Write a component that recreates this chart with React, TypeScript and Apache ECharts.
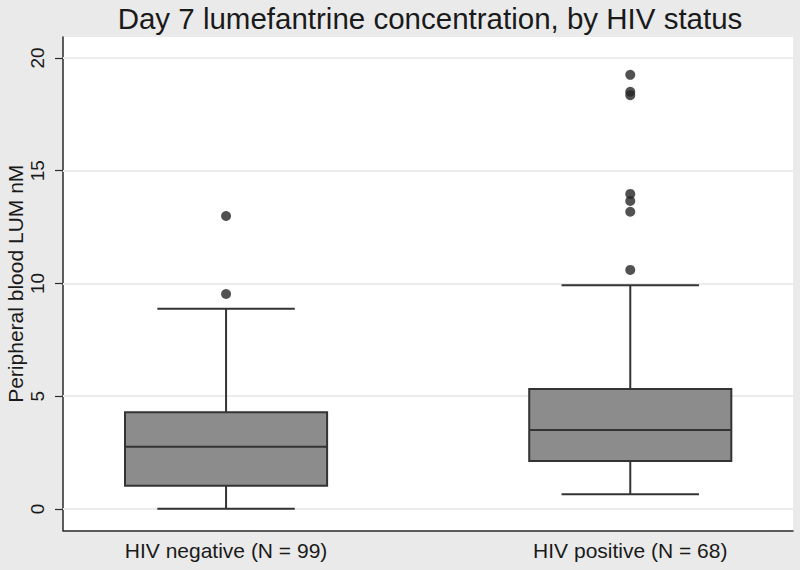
import React, { useEffect, useRef } from "react";
import * as echarts from "echarts";

const titleText = "Day 7 lumefantrine concentration, by HIV status";
const yAxisTitle = "Peripheral blood LUM nM";
const categories = ["HIV negative (N = 99)", "HIV positive (N = 68)"];
const groupPositions = [1, 2];
// [lower whisker, Q1, median, Q3, upper whisker]
const boxStats = [
  [0, 1.02, 2.75, 4.29, 8.88],
  [0.65, 2.12, 3.5, 5.32, 9.92],
];
const outliersNegative = [9.53, 12.99];
const outliersPositive = [10.6, 13.18, 13.66, 13.97, 18.35, 18.5, 19.25];
const yTicks = [0, 5, 10, 15, 20];

const FONT = "'Liberation Sans', Arial, Helvetica, sans-serif";

export default function App() {
  const ref = useRef<HTMLDivElement>(null);
  useEffect(() => {
    if (!ref.current) return;
    const chart = echarts.init(ref.current, undefined, { renderer: "svg" });

    const boxData = boxStats.map((s, i) => [groupPositions[i], ...s]);
    const outlierData = [
      ...outliersNegative.map((v) => [groupPositions[0], v]),
      ...outliersPositive.map((v) => [groupPositions[1], v]),
    ];

    chart.setOption({
      animation: false,
      backgroundColor: "#eaeaea",
      title: {
        text: titleText,
        left: 430,
        top: 3,
        padding: 0,
        textAlign: "center",
        textStyle: { fontFamily: FONT, fontSize: 29.5, fontWeight: "normal", color: "#1a1a1a" },
      },
      grid: {
        left: 63,
        top: 37,
        width: 730,
        height: 493.5,
        show: true,
        backgroundColor: "#ffffff",
        borderWidth: 0,
        containLabel: false,
        outerBoundsMode: "none",
      },
      xAxis: {
        type: "value",
        min: 0.5966,
        max: 2.4026,
        axisLine: { show: true, onZero: false, lineStyle: { color: "#2a2a2a", width: 1.5 } },
        axisTick: { show: false },
        splitLine: { show: false },
        axisLabel: {
          customValues: groupPositions,
          formatter: (v: number) => {
            const idx = groupPositions.indexOf(Math.round(v));
            return idx >= 0 ? categories[idx] : "";
          },
          fontFamily: FONT,
          fontSize: 21,
          color: "#1a1a1a",
          margin: 9,
        },
      },
      yAxis: {
        type: "value",
        min: -0.96,
        max: 20.93,
        name: yAxisTitle,
        nameLocation: "middle",
        nameGap: 37,
        nameMoveOverlap: false,
        nameRotate: 90,
        nameTextStyle: { fontFamily: FONT, fontSize: 21, color: "#1a1a1a" },
        axisLine: { show: true, onZero: false, lineStyle: { color: "#2a2a2a", width: 1.5 } },
        axisTick: { show: true, length: 8, customValues: yTicks, lineStyle: { color: "#2a2a2a", width: 1.2 } },
        axisLabel: {
          customValues: yTicks,
          rotate: 90,
          fontFamily: FONT,
          fontSize: 19,
          color: "#1a1a1a",
          margin: 16,
        },
        splitLine: { show: false },
      },
      series: [
        {
          type: "line",
          data: [],
          z: 1,
          silent: true,
          markLine: {
            silent: true,
            symbol: "none",
            z: 1,
            label: { show: false },
            lineStyle: { color: "#ececec", width: 2, type: "solid" },
            data: yTicks.map((v) => ({ yAxis: v })),
          },
        },
        {
          type: "custom",
          z: 3,
          data: boxData,
          encode: { x: 0, y: [1, 2, 3, 4, 5] },
          renderItem: (params: any, api: any) => {
            const x = api.value(0);
            const lo = api.coord([x, api.value(1)]);
            const q1 = api.coord([x, api.value(2)]);
            const med = api.coord([x, api.value(3)]);
            const q3 = api.coord([x, api.value(4)]);
            const hi = api.coord([x, api.value(5)]);
            const boxW = api.size([0.5, 0])[0];
            const capW = api.size([0.34, 0])[0];
            const cx = lo[0];
            const stroke = { stroke: "#333333", lineWidth: 2, fill: "none" };
            return {
              type: "group",
              children: [
                { type: "line", shape: { x1: cx, y1: q3[1], x2: cx, y2: hi[1] }, style: stroke },
                { type: "line", shape: { x1: cx, y1: q1[1], x2: cx, y2: lo[1] }, style: stroke },
                { type: "line", shape: { x1: cx - capW / 2, y1: hi[1], x2: cx + capW / 2, y2: hi[1] }, style: stroke },
                { type: "line", shape: { x1: cx - capW / 2, y1: lo[1], x2: cx + capW / 2, y2: lo[1] }, style: stroke },
                {
                  type: "rect",
                  shape: { x: cx - boxW / 2, y: q3[1], width: boxW, height: q1[1] - q3[1] },
                  style: { fill: "#8c8c8c", stroke: "#333333", lineWidth: 2 },
                },
                { type: "line", shape: { x1: cx - boxW / 2, y1: med[1], x2: cx + boxW / 2, y2: med[1] }, style: stroke },
              ],
            };
          },
        },
        {
          type: "scatter",
          z: 4,
          data: outlierData,
          symbol: "circle",
          symbolSize: 10,
          itemStyle: { color: "#262626" },
        },
      ],
    });
    return () => chart.dispose();
  }, []);
  return (
    <div
      ref={ref}
      style={{ position: "fixed", left: 0, top: 0, width: 800, height: 570 }}
    />
  );
}
